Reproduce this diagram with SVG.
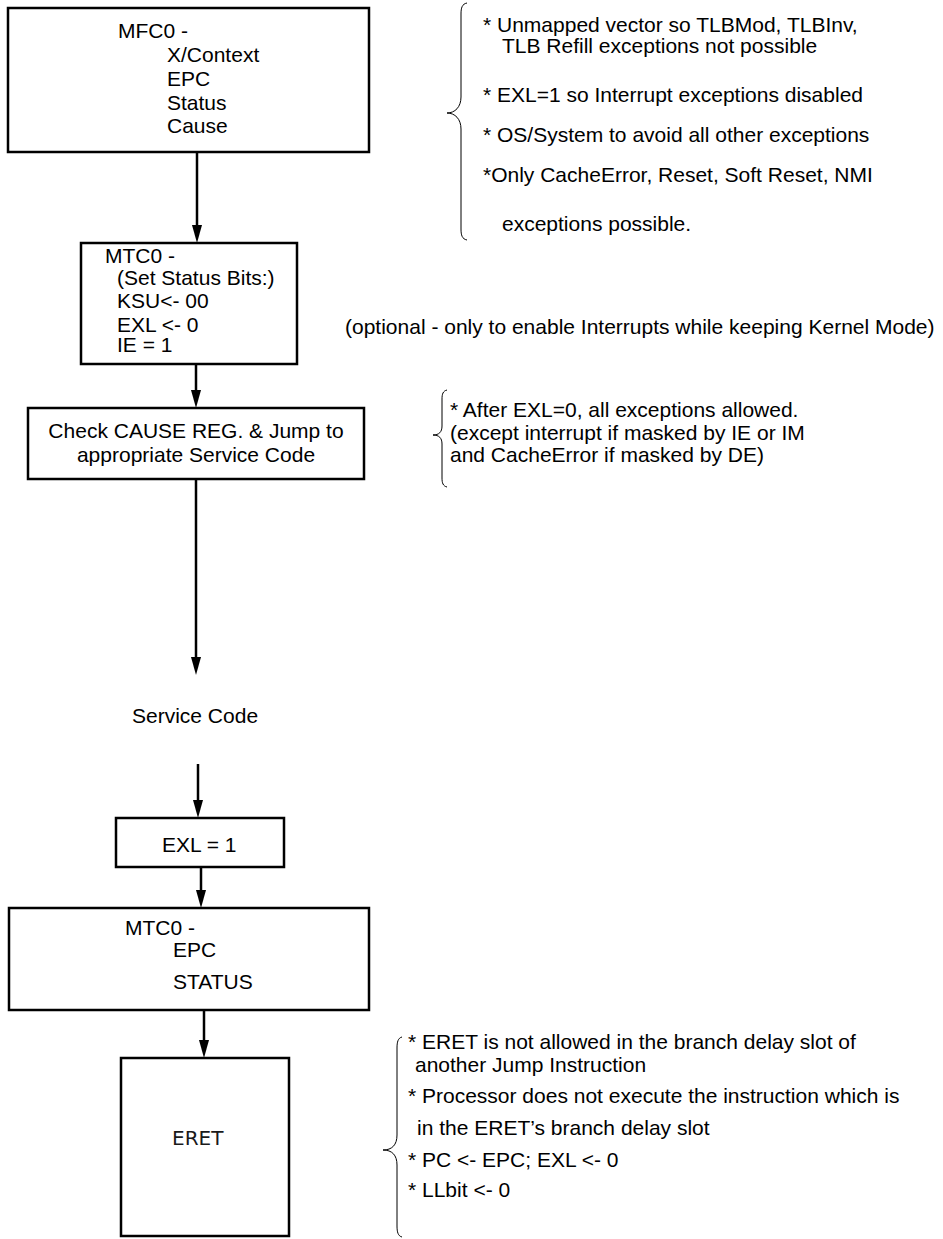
<svg xmlns="http://www.w3.org/2000/svg" width="943" height="1239" viewBox="0 0 943 1239">
  <style>
    .box { fill: #ffffff; stroke: #000000; stroke-width: 2.5; }
    .t { font-family: "Liberation Sans", Arial, sans-serif; font-size: 21px; fill: #000000; }
    .tc { text-anchor: middle; }
    .eret { font-family: "DejaVu Sans", sans-serif; font-size: 20px; fill: #1a1a1a; }
    .conn { stroke: #000000; stroke-width: 2.5; fill: none; marker-end: url(#arrow); }
    .brace { stroke: #000000; stroke-width: 1; fill: none; }
  </style>
  <defs>
    <marker id="arrow" markerUnits="userSpaceOnUse" markerWidth="18" markerHeight="10" refX="8" refY="5" orient="auto">
      <path d="M0,0 L18,5 L0,10 Z" fill="#000000"/>
    </marker>
  </defs>

  <rect width="943" height="1239" fill="#ffffff"/>

  <!-- flow connectors (line ends 10px short of the arrow tip) -->
  <g id="connectors">
    <line class="conn" x1="197" y1="152" x2="197" y2="233"/>
    <line class="conn" x1="196" y1="364" x2="196" y2="398"/>
    <line class="conn" x1="196" y1="479" x2="196" y2="665"/>
    <line class="conn" x1="198" y1="764" x2="198" y2="808"/>
    <line class="conn" x1="201" y1="867" x2="201" y2="898"/>
    <line class="conn" x1="204" y1="1010" x2="204" y2="1048"/>
  </g>

  <g id="mfc0">
    <rect class="box" x="8" y="8" width="361" height="144"/>
    <text class="t" x="118" y="38">MFC0 -</text>
    <text class="t" x="167" y="62">X/Context</text>
    <text class="t" x="167" y="86">EPC</text>
    <text class="t" x="167" y="110">Status</text>
    <text class="t" x="167" y="133">Cause</text>
  </g>

  <g id="mtc0-set">
    <rect class="box" x="81" y="243" width="216" height="121"/>
    <text class="t" x="105" y="263">MTC0 -</text>
    <text class="t" x="117" y="285">(Set Status Bits:)</text>
    <text class="t" x="117" y="308">KSU&lt;- 00</text>
    <text class="t" x="117" y="332">EXL &lt;- 0</text>
    <text class="t" x="117" y="352">IE = 1</text>
  </g>

  <g id="check-cause">
    <rect class="box" x="28" y="408" width="336" height="71"/>
    <text class="t tc" x="196" y="438">Check CAUSE REG. &amp; Jump to</text>
    <text class="t tc" x="196" y="462">appropriate Service Code</text>
  </g>

  <g id="service-code">
    <text class="t" x="132" y="723">Service Code</text>
  </g>

  <g id="exl-set">
    <rect class="box" x="116" y="818" width="168" height="49"/>
    <text class="t" x="162" y="852">EXL = 1</text>
  </g>

  <g id="mtc0-restore">
    <rect class="box" x="9" y="908" width="360" height="102"/>
    <text class="t" x="125" y="935">MTC0 -</text>
    <text class="t" x="173" y="957">EPC</text>
    <text class="t" x="173" y="989">STATUS</text>
  </g>

  <g id="eret">
    <rect class="box" x="121" y="1058" width="168" height="178"/>
    <text class="eret" x="172" y="1145">ERET</text>
  </g>

  <!-- side notes -->
  <g id="note-optional">
    <text class="t" x="345" y="334">(optional - only to enable Interrupts while keeping Kernel Mode)</text>
  </g>

  <g id="note-vector">
    <path class="brace" d="M467,3 C462,4 461,8 461,14 L461,97 C461,107 455,113 447,113 C455,113 461,119 461,129 L461,229 C461,235 462,239 467,240"/>
    <text class="t" x="483" y="32">* Unmapped vector so TLBMod, TLBInv,</text>
    <text class="t" x="502" y="53">TLB Refill exceptions not possible</text>
    <text class="t" x="483" y="102">* EXL=1 so Interrupt exceptions disabled</text>
    <text class="t" x="483" y="142">* OS/System to avoid all other exceptions</text>
    <text class="t" x="483" y="182">*Only CacheError, Reset, Soft Reset, NMI</text>
    <text class="t" x="502" y="231">exceptions possible.</text>
  </g>

  <g id="note-exceptions">
    <path class="brace" d="M447,390 C443,391 442,394 442,399 L442,426 C442,432 439,435 433,435 C439,435 442,438 442,444 L442,478 C442,483 443,486 447,487"/>
    <text class="t" x="450" y="417">* After EXL=0, all exceptions allowed.</text>
    <text class="t" x="450" y="440">(except interrupt if masked by IE or IM</text>
    <text class="t" x="450" y="462">and CacheError if masked by DE)</text>
  </g>

  <g id="note-eret">
    <path class="brace" d="M402,1037 C398,1038 397,1042 397,1048 L397,1135 C397,1145 392,1150 383,1150 C392,1150 397,1155 397,1165 L397,1226 C397,1232 398,1236 402,1237"/>
    <text class="t" x="408" y="1049">* ERET is not allowed in the branch delay slot of</text>
    <text class="t" x="415" y="1072">another Jump Instruction</text>
    <text class="t" x="408" y="1103">* Processor does not execute the instruction which is</text>
    <text class="t" x="417" y="1135">in the ERET’s branch delay slot</text>
    <text class="t" x="408" y="1167">* PC &lt;- EPC; EXL &lt;- 0</text>
    <text class="t" x="408" y="1197">* LLbit &lt;- 0</text>
  </g>
</svg>
